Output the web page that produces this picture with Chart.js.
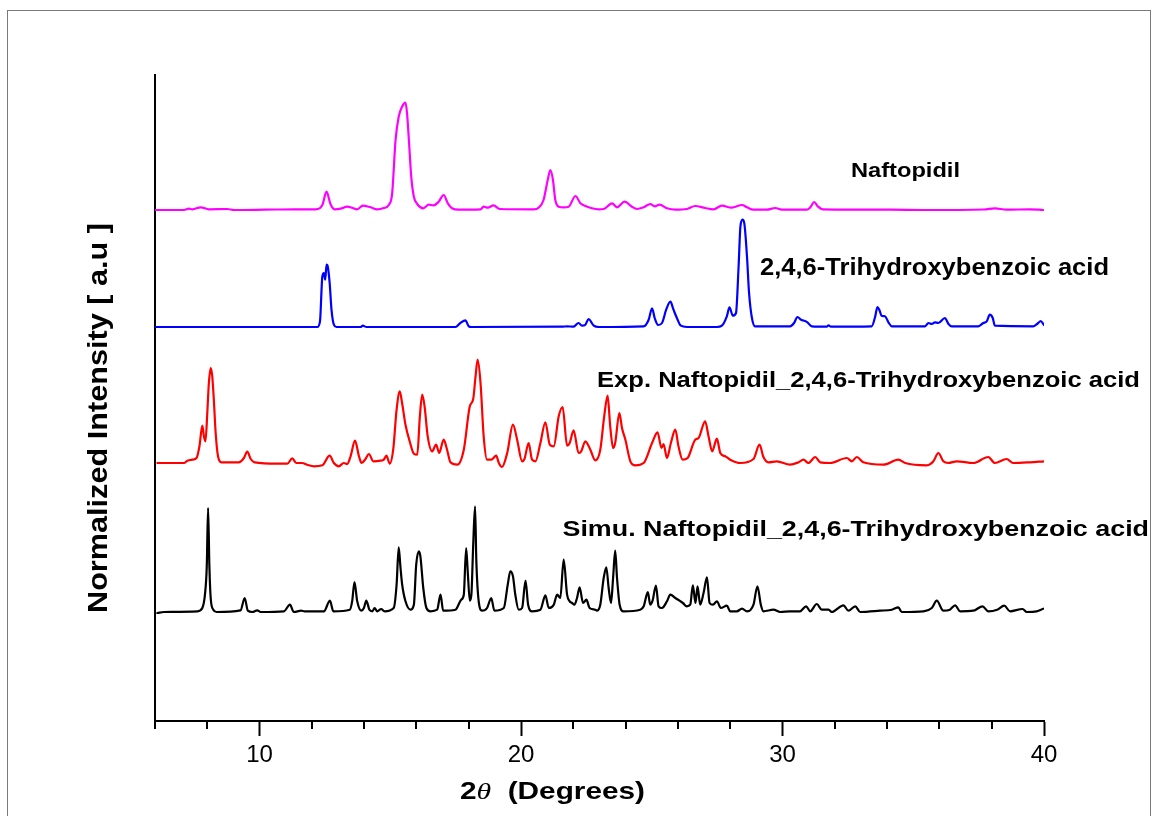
<!DOCTYPE html>
<html>
<head>
<meta charset="utf-8">
<title>PXRD patterns</title>
<script src="https://cdn.jsdelivr.net/npm/chart.js@4/dist/chart.umd.min.js"></script>
<style>
  html, body { margin: 0; padding: 0; background: #ffffff; }
  #wrap { width: 1155px; height: 816px; position: relative; }
</style>
</head>
<body>
<div id="wrap"><canvas id="xrd" width="1155" height="816"></canvas></div>
<script>
// 2-theta (degrees) and normalized intensity (a.u.) for each pattern
const naftopidil = [
  [6.03,0],[7.11,0],[7.30,1.3],[7.43,0.7],[7.75,2.7],[8.06,0.7],[8.77,1],[9.02,0],[10.17,0.3],[11.31,0.7],
  [12.14,0.7],[12.40,5],[12.56,18.3],[12.71,6],[12.87,0.7],[13.10,1.3],[13.35,3.3],[13.54,2.3],[13.73,0.7],[13.95,4.3],
  [14.24,2.7],[14.50,0.7],[14.75,2],[14.94,5],[15.07,16.7],[15.20,70],[15.32,93.3],[15.45,103.3],[15.58,107.3],[15.64,96.7],
  [15.71,70],[15.80,33.3],[15.90,13.3],[16.03,6],[16.26,1.7],[16.47,5.3],[16.66,4.7],[16.85,8.3],[17.04,15],[17.20,6.7],
  [17.36,1.7],[17.62,0.3],[18.45,0.7],[18.57,3.3],[18.73,2.3],[18.95,4.7],[19.18,1],[20.48,0.7],[20.67,2.3],[20.86,10],
  [21.02,30],[21.12,40],[21.22,30],[21.31,10],[21.44,3.3],[21.63,2.7],[21.82,3.3],[22.08,14],[22.27,6.7],[22.46,4],
  [22.71,1.7],[22.97,0.7],[23.16,1],[23.48,6.7],[23.67,2.7],[23.96,8.3],[24.24,3.3],[24.43,1],[24.69,2.7],[24.94,6],
  [25.11,3.7],[25.30,5.3],[25.58,1.7],[25.90,0.3],[26.34,1],[26.66,4],[27.04,2],[27.36,0.7],[27.68,4.3],[28.06,2.3],
  [28.45,5],[28.64,2.7],[28.89,0.3],[29.40,0.3],[29.72,2],[29.97,0.3],[30.93,0.3],[31.08,3.3],[31.21,8],[31.35,3.7],
  [31.56,0.7],[34.11,0.3],[35.39,0],[37.70,0.5],[38.12,1.7],[38.57,0.3],[39.46,0.7],[39.97,0]
];

const trihydroxybenzoicAcid = [
  [6.03,0],[12.21,0],[12.31,5.7],[12.40,50.7],[12.46,54],[12.51,47.3],[12.56,62.3],[12.61,60],[12.68,44],[12.75,17.3],
  [12.84,2.3],[12.94,0],[13.86,0],[13.95,1.3],[14.09,0],[17.49,0],[17.68,4],[17.87,6.7],[18.00,0.7],[18.10,0],
  [21.57,0.3],[21.76,0.7],[22.01,0.3],[22.20,4],[22.33,1.3],[22.46,2.3],[22.58,8],[22.78,1.3],[22.97,0],[24.69,0.7],
  [24.88,7.3],[25.01,18.7],[25.11,9],[25.24,2],[25.39,4],[25.55,17.3],[25.71,25.3],[25.83,17.3],[25.96,9],[26.11,1.3],
  [26.34,0],[27.49,0],[27.68,1.3],[27.87,10.7],[27.97,19.7],[28.10,11.3],[28.22,14],[28.32,60.7],[28.39,100.7],[28.47,107.3],
  [28.54,103.3],[28.64,70.7],[28.72,34],[28.83,9],[28.95,0.7],[30.29,0.7],[30.44,4],[30.57,10],[30.71,7.3],[30.86,6],
  [30.95,4.7],[31.12,0.7],[31.69,0.3],[31.76,1.7],[31.85,0.3],[33.41,0.7],[33.54,10],[33.63,20],[33.70,17.3],[33.79,11.3],
  [33.92,10.7],[34.05,4.7],[34.18,0.7],[35.45,0.7],[35.58,4],[35.71,3],[35.83,4.7],[35.96,4],[36.21,9],[36.34,3.3],
  [36.47,0.7],[37.49,0.7],[37.68,4],[37.81,5.7],[37.93,12.3],[38.04,9],[38.12,1.3],[39.59,0.7],[39.78,4],[39.87,6],
  [40.00,2]
];

const cocrystalExp = [
  [6.09,0],[7.11,0],[7.24,2.3],[7.43,3.3],[7.59,5],[7.70,16.7],[7.81,37.3],[7.87,26.7],[7.93,21.7],[8.00,50],
  [8.06,80],[8.13,95],[8.19,86.7],[8.25,63.3],[8.32,30],[8.41,6.7],[8.54,0.7],[9.21,0.7],[9.40,5],[9.53,11.3],
  [9.66,4],[9.81,0.7],[10.68,-0.7],[11.06,-0.7],[11.25,4.7],[11.40,0],[11.63,0],[11.82,-1.7],[12.08,-3.3],[12.40,-2.3],
  [12.68,7.3],[12.84,0],[13.03,-3.3],[13.22,0],[13.35,-1],[13.48,6.7],[13.65,22.3],[13.80,6.7],[13.90,0],[14.05,4],
  [14.18,9],[14.35,1.7],[14.62,2.3],[14.75,3.3],[14.85,7.3],[14.98,-0.7],[15.11,13.3],[15.24,53.3],[15.36,71.7],[15.45,60],
  [15.58,38.3],[15.74,21.7],[15.90,9.3],[16.03,8.3],[16.13,46.7],[16.22,68.3],[16.31,56.7],[16.43,26.7],[16.60,11.7],[16.75,18.3],
  [16.87,10],[17.04,23.3],[17.17,13.3],[17.30,0.7],[17.56,-1.7],[17.81,13.3],[18.04,56.7],[18.17,64],[18.26,86.7],[18.34,103.3],
  [18.45,80],[18.57,26.7],[18.70,3.3],[18.86,3.3],[19.05,7.3],[19.15,0],[19.27,-4],[19.47,10],[19.69,38.3],[19.85,23.3],
  [20.04,1.7],[20.13,4],[20.29,20],[20.42,3.3],[20.55,1.7],[20.74,20],[20.93,40.7],[21.10,18.3],[21.25,16.7],[21.44,46.7],
  [21.59,56],[21.76,17.3],[21.86,20],[22.01,32.7],[22.20,10],[22.30,11.7],[22.46,21.7],[22.65,13.3],[22.84,2.7],[23.03,13.3],
  [23.18,46.7],[23.31,67.3],[23.41,36.7],[23.52,15],[23.60,20],[23.76,50],[23.86,35],[23.99,23.3],[24.18,1.7],[24.37,-2.3],
  [24.69,0],[25.01,20],[25.22,30.7],[25.37,15],[25.45,19],[25.58,5],[25.73,20],[25.90,33.3],[26.02,16.7],[26.18,3.3],
  [26.37,5],[26.66,23.3],[26.79,25],[27.04,41.7],[27.17,26.7],[27.31,11.7],[27.49,24.3],[27.62,10],[27.81,6.7],[28.00,3.3],
  [28.38,0],[28.89,4],[29.12,18.3],[29.27,6],[29.46,0.7],[29.78,1.7],[30.29,-1.7],[30.61,0.7],[30.80,3.3],[30.99,0],
  [31.25,6],[31.44,0.7],[31.82,0],[32.46,5],[32.65,1.7],[32.84,6],[33.09,0.7],[33.86,-1.7],[34.43,3.3],[34.69,0],
  [35.52,-2.3],[35.77,1.7],[35.96,10],[36.15,1.7],[36.34,0],[36.66,1.7],[37.30,0],[37.87,6],[38.12,0],[38.57,4],
  [38.82,0],[39.46,0.7],[40.00,1.7]
];

const cocrystalSim = [
  [6.09,-1],[6.34,0],[7.62,0.7],[7.81,4],[7.91,17.3],[7.98,45.7],[8.03,104],[8.08,45.7],[8.13,14],[8.23,2.3],
  [8.36,0],[9.27,1.7],[9.43,14],[9.55,1.3],[9.72,0],[9.91,1.7],[10.04,0],[10.93,0.7],[11.16,7.3],[11.31,0],
  [11.59,1.3],[11.72,0.7],[12.46,0.7],[12.69,11.3],[12.82,0.7],[13.45,2.3],[13.54,10.7],[13.63,30],[13.73,11.3],[13.89,1.3],
  [13.99,4],[14.08,11.3],[14.20,2.3],[14.31,0.7],[14.40,4],[14.50,0.7],[14.65,3],[14.78,0.7],[15.13,4],[15.24,27.3],
  [15.32,64.7],[15.39,44],[15.45,28],[15.58,10.7],[15.77,2.3],[15.90,7.3],[15.99,47.3],[16.09,60.7],[16.15,55.7],[16.26,24],
  [16.38,4],[16.54,0.7],[16.79,2.3],[16.92,17.3],[17.02,1.3],[17.49,2.3],[17.71,12.3],[17.81,17.3],[17.90,64],[17.96,40.7],
  [18.04,11.3],[18.10,17.3],[18.17,67.3],[18.24,105.7],[18.29,50.7],[18.38,10.7],[18.51,1.3],[18.70,4],[18.86,14],[18.98,1.3],
  [19.34,4],[19.49,27.3],[19.59,40.7],[19.69,35.7],[19.78,17.3],[19.91,2.3],[20.04,4],[20.17,31.3],[20.27,7.3],[20.42,0.7],
  [20.74,2.3],[20.93,16.7],[21.06,4],[21.25,7.3],[21.38,17.3],[21.50,14],[21.63,52.3],[21.76,17.3],[21.86,10.7],[21.95,9],
  [22.04,7.3],[22.14,14],[22.24,24.7],[22.37,9],[22.50,12.3],[22.62,4],[22.84,2.3],[22.90,1.3],[23.03,7.3],[23.16,34],
  [23.26,44.7],[23.35,24],[23.44,9],[23.52,34],[23.60,61.3],[23.67,34],[23.77,7.3],[23.92,0.7],[24.56,2.3],[24.69,5.7],
  [24.85,20],[24.94,7.3],[25.03,11.3],[25.16,26.3],[25.26,5.7],[25.39,4],[25.58,10.7],[25.71,17.3],[25.90,14],[26.06,11.3],
  [26.19,9],[26.34,5.7],[26.47,7.3],[26.57,26.7],[26.67,9],[26.75,25.7],[26.85,7.3],[26.98,19],[27.11,34.7],[27.21,9],
  [27.34,7.3],[27.49,10.7],[27.64,4],[27.87,6.3],[28.00,0.7],[28.25,0.7],[28.45,3.3],[28.64,0.7],[28.89,7.3],[29.04,25.7],
  [29.17,7.3],[29.27,0.7],[29.65,2.3],[29.91,0],[30.29,0.7],[30.67,0.7],[30.90,5.7],[31.06,0.7],[31.31,8],[31.50,2.3],
  [31.76,2.3],[31.88,0],[32.33,6.7],[32.52,1.3],[32.78,5.7],[32.97,0],[33.73,1.3],[34.18,2.3],[34.43,4.7],[34.56,0],
  [35.39,0.7],[35.71,4],[35.90,11.3],[36.15,1.3],[36.40,2.3],[36.60,6.7],[36.79,0.7],[37.30,1.3],[37.65,5.7],[37.87,0.7],
  [38.21,2.3],[38.48,6.3],[38.70,0.7],[39.18,3],[39.34,0],[39.72,0.7],[39.97,3.3]
];

// vertical offset of each pattern in the stack (a.u.)
const stackOffsets = [511, 394, 258, 109];
const seriesLabels = [
  'Naftopidil',
  '2,4,6-Trihydroxybenzoic acid',
  'Exp. Naftopidil_2,4,6-Trihydroxybenzoic acid',
  'Simu. Naftopidil_2,4,6-Trihydroxybenzoic acid'
];
const seriesColors = ['#ff00ff', '#0000ff', '#ff0000', '#000000'];
const patterns = [naftopidil, trihydroxybenzoicAcid, cocrystalExp, cocrystalSim];

const X_MIN = 6, X_MAX = 40, X_STEP = 2, X_MAJOR = 10;
const Y_MAX = 646;

const SANS = "'Liberation Sans', Arial, Helvetica, sans-serif";

// text fitted between left and right edges at a given baseline
function fitText(ctx, text, font, left, right, baseline) {
  ctx.save();
  ctx.font = font;
  ctx.textAlign = 'left';
  ctx.textBaseline = 'alphabetic';
  const w = ctx.measureText(text).width;
  ctx.translate(left, baseline);
  ctx.scale((right - left) / w, 1);
  ctx.fillText(text, 0, 0);
  ctx.restore();
}

// series captions: [left, right, baseline, font size]
const captionBoxes = [
  [851, 960, 177, 21],
  [760, 1109, 275, 23],
  [597, 1140, 386.5, 21.5],
  [562.5, 1149, 535.5, 21.5]
];

const decorations = {
  id: 'decorations',
  beforeDraw(chart) {
    const ctx = chart.ctx;
    ctx.save();
    ctx.fillStyle = '#ffffff';
    ctx.fillRect(0, 0, chart.width, chart.height);
    // outer frame
    ctx.strokeStyle = '#7a7a7a';
    ctx.lineWidth = 1;
    ctx.strokeRect(7.5, 10.5, 1143, 830);
    ctx.restore();
  },
  afterDraw(chart) {
    const ctx = chart.ctx;
    const xs = chart.scales.x;
    const area = chart.chartArea;
    ctx.save();
    // minor ticks
    ctx.strokeStyle = '#000';
    ctx.lineWidth = 2;
    xs.ticks.forEach(t => {
      if (t.value % X_MAJOR !== 0) {
        const px = Math.round(xs.getPixelForValue(t.value));
        ctx.beginPath();
        ctx.moveTo(px, area.bottom);
        ctx.lineTo(px, area.bottom + 8);
        ctx.stroke();
      }
    });
    ctx.fillStyle = '#000';
    // series captions
    captionBoxes.forEach((b, i) => {
      fitText(ctx, seriesLabels[i], `bold ${b[3]}px ${SANS}`, b[0], b[1], b[2]);
    });
    // x axis title: 2θ (Degrees)
    const parts = [
      ['2', `bold 24px ${SANS}`],
      ['\u03B8', `italic 24px 'Liberation Serif', 'DejaVu Serif', serif`],
      ['  (Degrees)', `bold 24px ${SANS}`]
    ];
    let total = 0;
    const widths = parts.map(p => { ctx.font = p[1]; const w = ctx.measureText(p[0]).width; total += w; return w; });
    const left = 460, right = 645, base = 799;
    const sx = (right - left) / total;
    ctx.save();
    ctx.translate(left, base);
    ctx.scale(sx, 1);
    ctx.textBaseline = 'alphabetic';
    ctx.textAlign = 'left';
    let cx = 0;
    parts.forEach((p, i) => { ctx.font = p[1]; ctx.fillText(p[0], cx, 0); cx += widths[i]; });
    ctx.restore();
    // y axis title (rotated)
    ctx.save();
    ctx.translate(107, 613);
    ctx.rotate(-Math.PI / 2);
    fitText(ctx, 'Normalized Intensity [ a.u ]', `bold 27px ${SANS}`, 0, 390, 0);
    ctx.restore();
    ctx.restore();
  }
};

const datasets = patterns.map((pat, i) => ({
  label: seriesLabels[i],
  data: pat.map(p => ({ x: p[0], y: stackOffsets[i] + p[1] })),
  borderColor: seriesColors[i],
  backgroundColor: seriesColors[i],
  borderWidth: 2.2,
  borderJoinStyle: 'round',
  borderCapStyle: 'round',
  pointRadius: 0,
  cubicInterpolationMode: 'monotone',
  fill: false
}));

new Chart(document.getElementById('xrd'), {
  type: 'line',
  data: { datasets },
  options: {
    responsive: false,
    devicePixelRatio: 1,
    animation: false,
    events: [],
    layout: { padding: { left: 155, top: 75, right: 111, bottom: 0 } },
    plugins: { legend: { display: false }, title: { display: false }, tooltip: { enabled: false } },
    scales: {
      x: {
        type: 'linear',
        position: 'bottom',
        min: X_MIN,
        max: X_MAX,
        afterFit(s) { s.height = 95; },
        border: { display: true, color: '#000', width: 2 },
        grid: {
          display: true,
          drawOnChartArea: false,
          drawTicks: true,
          tickLength: 15,
          tickWidth: 2,
          tickColor: c => (c.tick && c.tick.value % X_MAJOR === 0) ? '#000' : 'rgba(0,0,0,0)'
        },
        ticks: {
          stepSize: X_STEP,
          autoSkip: false,
          maxRotation: 0,
          padding: 5,
          color: '#000',
          font: { family: SANS, size: 24 },
          callback: v => (v % X_MAJOR === 0 ? String(v) : '')
        }
      },
      y: {
        type: 'linear',
        min: 0,
        max: Y_MAX,
        afterFit(s) { s.width = 0; },
        border: { display: true, color: '#000', width: 2 },
        grid: { display: false, drawTicks: false },
        ticks: { display: false }
      }
    }
  },
  plugins: [decorations]
});
</script>
</body>
</html>
